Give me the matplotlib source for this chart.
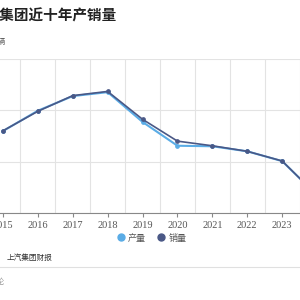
import matplotlib
matplotlib.use('Agg')
import matplotlib.pyplot as plt
from matplotlib.lines import Line2D

plt.rcParams['font.family'] = ['Noto Sans CJK SC', 'DejaVu Sans']

# ── Data (万辆) ────────────────────────────────────────────────────────────────
years      = ['2015', '2016', '2017', '2018', '2019', '2020', '2021', '2022', '2023', '2024']
production = [589.4, 648.9, 691.6, 703.1, 616.1, 546.5, 545.0, 530.2, 501.6, 401.7]
sales      = [590.2, 647.2, 693.0, 705.2, 623.8, 560.0, 546.4, 530.3, 502.0, 401.3]
y_ticks    = [350, 500, 650, 800]

PROD_C  = '#5AACE6'
SALES_C = '#4A5886'
GRID_C  = '#E3E3E3'

fig = plt.figure(figsize=(3, 3), dpi=100)
fig.patch.set_facecolor('white')

# plot area is wider than the picture (left and right cropped, as in the source)
ax = fig.add_axes([-14.5 / 300, 87 / 300, 349 / 300, 154 / 300])
x = list(range(len(years)))

ax.plot(x, production, color=PROD_C, lw=1.5, marker='o', ms=2.4,
        mfc=PROD_C, mec=PROD_C, zorder=3)
ax.plot(x, sales, color=SALES_C, lw=1.2, marker='o', ms=2.4,
        mfc=SALES_C, mec=SALES_C, zorder=4)

ax.set_xlim(-0.5, len(years) - 0.5)
ax.set_ylim(y_ticks[0], y_ticks[-1])
ax.set_yticks(y_ticks)
ax.set_yticklabels([])
ax.tick_params(axis='y', length=0)
ax.set_xticks(x)
ax.set_xticklabels(years, fontsize=7.5, color='#555555', family=['Liberation Serif', 'DejaVu Serif'])
ax.tick_params(axis='x', length=3, color='#888888', pad=3)

# split lines between categories + horizontal grid
for b in range(len(years)):
    ax.axvline(b + 0.5, color=GRID_C, lw=0.8, zorder=0)
ax.grid(axis='y', color=GRID_C, lw=0.8, zorder=0)
for s in ['top', 'right', 'left']:
    ax.spines[s].set_visible(False)
ax.spines['bottom'].set_color('#888888')
ax.spines['bottom'].set_linewidth(0.8)

# ── Texts ─────────────────────────────────────────────────────────────────────
fig.text(-30 / 300, 1 - 15 / 300, '上汽集团近十年产销量', fontsize=10.5, fontweight='bold',
         color='#222222', ha='left', va='center')
fig.text(6 / 300, 1 - 42 / 300, '单位：万辆', fontsize=5.5, color='#444444',
         ha='right', va='center')

handles = [Line2D([], [], ls='none', marker='o', ms=5, mfc=PROD_C, mec=PROD_C),
           Line2D([], [], ls='none', marker='o', ms=5, mfc=SALES_C, mec=SALES_C)]
fig.legend(handles, ['产量', '销量'], loc='center', bbox_to_anchor=(151 / 300, 1 - 238 / 300),
           ncol=2, frameon=False, fontsize=6.5, handletextpad=0.2, columnspacing=1.1,
           handlelength=1.2, labelcolor='#555555')

fig.text(7 / 300, 1 - 258 / 300, '上汽集团财报', fontsize=5.5, color='#333333',
         ha='left', va='center')
fig.add_artist(Line2D([0, 1], [1 - 267 / 300, 1 - 267 / 300], transform=fig.transFigure,
                      color='#E0E0E0', lw=0.8))
fig.text(5 / 300, 1 - 282 / 300, '城市进化论', fontsize=5.5, color='#999999',
         ha='right', va='center')

fig.savefig('out.png', dpi=100, facecolor='white')
